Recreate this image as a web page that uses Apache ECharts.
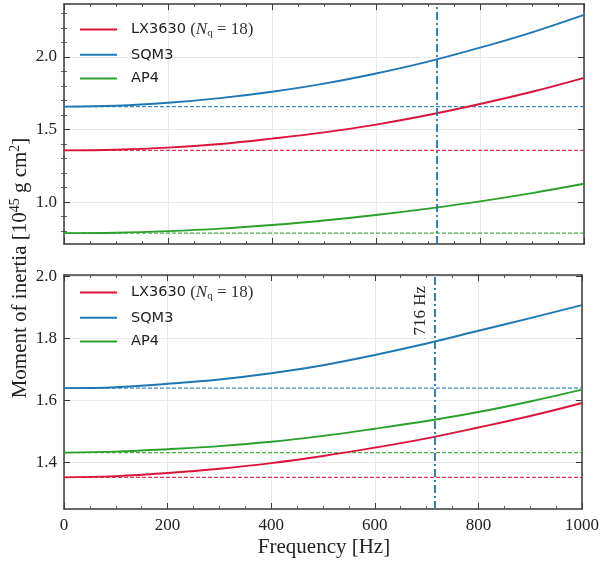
<!DOCTYPE html>
<html>
<head>
<meta charset="utf-8">
<script src="https://cdn.jsdelivr.net/npm/echarts@6/dist/echarts.min.js"></script>
<style>
  html, body { margin: 0; padding: 0; background: #fff; }
  #chart { width: 602px; height: 564px; }
</style>
</head>
<body>
<div id="chart"></div>
<script>
// Spin frequency grid [Hz]
const freq = [0, 100, 200, 300, 400, 500, 600, 700, 800, 900, 1000];

// Upper panel: moment of inertia [10^45 g cm^2]
const topLX3630 = [1.356, 1.361, 1.375, 1.400, 1.437, 1.480, 1.534, 1.600, 1.676, 1.760, 1.856];
const topSQM3   = [1.658, 1.664, 1.684, 1.716, 1.760, 1.816, 1.886, 1.968, 2.064, 2.170, 2.290];
const topAP4    = [0.786, 0.789, 0.800, 0.817, 0.842, 0.873, 0.911, 0.955, 1.005, 1.062, 1.126];

// Lower panel
const botLX3630 = [1.352, 1.356, 1.366, 1.380, 1.398, 1.421, 1.448, 1.478, 1.513, 1.550, 1.592];
const botSQM3   = [1.640, 1.643, 1.654, 1.668, 1.688, 1.714, 1.747, 1.784, 1.825, 1.866, 1.908];
const botAP4    = [1.432, 1.435, 1.443, 1.453, 1.467, 1.486, 1.509, 1.534, 1.563, 1.597, 1.635];

// Non-rotating reference values (dashed lines)
const topStatic = { LX3630: 1.356, SQM3: 1.658, AP4: 0.786 };
const botStatic = { LX3630: 1.352, SQM3: 1.640, AP4: 1.432 };

// Observed spin frequency
const fastestPulsar = 716;

// Axis ranges and ticks
const xRange = [0, 1000];
const xTicks = 200;
const topYRange = [0.711, 2.365];
const topYMajor = [1.0, 1.5, 2.0];
const topYMinor = [0.8, 0.9, 1.1, 1.2, 1.3, 1.4, 1.6, 1.7, 1.8, 1.9, 2.1, 2.2, 2.3];
const botYRange = [1.25, 2.005];
const botYMajor = [1.4, 1.6, 1.8, 2.0];

const names = ['LX3630', 'SQM3', 'AP4'];
const colors = { LX3630: '#dc143c', SQM3: '#1f77b4', AP4: '#2ca02c' };

const serif = 'Liberation Serif';
const sans = 'DejaVu Sans';
const frameColor = '#3a3a3a';
const gridColor = '#e8e8e8';

function pairs(xs, ys) { return xs.map((x, i) => [x, ys[i]]); }

function xAxes(gridIndex, withLabels) {
  const common = {
    type: 'value', gridIndex, min: xRange[0], max: xRange[1], interval: xTicks,
    axisLine: { show: true, onZero: false, lineStyle: { color: frameColor, width: 1.5 } },
    axisTick: { show: true, inside: true, length: 6, lineStyle: { color: frameColor, width: 1 } },
    minorTick: { show: true, splitNumber: 4, length: 3, lineStyle: { color: frameColor, width: 0.8 } }
  };
  return [
    Object.assign({}, common, {
      position: 'bottom',
      axisLabel: { show: withLabels, fontFamily: serif, fontSize: 17, color: '#222', margin: 8, formatter: v => String(v) },
      splitLine: { show: true, lineStyle: { color: gridColor, width: 1 } }
    }),
    Object.assign({}, common, {
      position: 'top',
      axisLabel: { show: false },
      splitLine: { show: false }
    })
  ];
}

function yAxes(gridIndex, range, major, minor) {
  const base = {
    type: 'value', gridIndex, min: range[0], max: range[1],
    axisLine: { show: true, onZero: false, lineStyle: { color: frameColor, width: 1.5 } },
    splitLine: { show: false }
  };
  const list = [];
  ['left', 'right'].forEach(pos => {
    list.push(Object.assign({}, base, {
      position: pos,
      axisTick: { show: true, inside: true, length: 6, customValues: major, lineStyle: { color: frameColor, width: 1 } },
      axisLabel: {
        show: pos === 'left', customValues: major, fontFamily: serif, fontSize: 17, color: '#222', margin: 7,
        formatter: v => v.toFixed(1)
      },
      splitLine: { show: pos === 'left', lineStyle: { color: gridColor, width: 1 } }
    }));
    list.push(Object.assign({}, base, {
      position: pos,
      axisLine: { show: false },
      axisTick: { show: minor.length > 0, inside: true, length: 3, customValues: minor.length ? minor : [range[0]], lineStyle: { color: frameColor, width: 0.8 } },
      axisLabel: { show: false },
      splitLine: { show: false }
    }));
  });
  return list;
}

function panelSeries(xIdx, yIdx, curves, statics, withLabel) {
  const out = [];
  names.forEach(n => {
    out.push({
      name: n, type: 'line', xAxisIndex: xIdx, yAxisIndex: yIdx,
      data: pairs(freq, curves[n]), smooth: 0.4, showSymbol: false, symbol: 'none',
      lineStyle: { color: colors[n], width: 1.9 }, itemStyle: { color: colors[n] }, z: 3
    });
    out.push({
      name: n + ' static', type: 'line', xAxisIndex: xIdx, yAxisIndex: yIdx,
      data: [[xRange[0], statics[n]], [xRange[1], statics[n]]], showSymbol: false, symbol: 'none',
      lineStyle: { color: colors[n], width: 1.2, type: [4, 2], opacity: 0.85 }, z: 2, silent: true
    });
  });
  out.push({
    name: 'spin limit', type: 'line', xAxisIndex: xIdx, yAxisIndex: yIdx, data: [], z: 4, silent: true,
    markLine: {
      silent: true, symbol: 'none', animation: false,
      lineStyle: { color: '#1f77b4', width: 1.8, type: [8, 3, 2, 3] },
      label: withLabel ? {
        show: true, position: 'insideEndTop', formatter: fastestPulsar + ' Hz',
        fontFamily: serif, fontSize: 17, color: '#222', distance: 6, padding: [0, 5, 0, 0]
      } : { show: false },
      data: [{ xAxis: fastestPulsar }]
    }
  });
  return out;
}

const legendRich = {
  s: { fontFamily: sans, fontSize: 14.5, color: '#222', lineHeight: 18, padding: [0, 0, 0, 9] },
  m: { fontFamily: serif, fontSize: 17, color: '#333', lineHeight: 18 },
  i: { fontFamily: serif, fontSize: 17, fontStyle: 'italic', color: '#333', lineHeight: 18 },
  sub: { fontFamily: serif, fontSize: 11, color: '#333', lineHeight: 18, verticalAlign: 'bottom', padding: [6, 0, 0, 0] }
};

function legendFor(top) {
  return {
    data: names, orient: 'vertical', left: 80, top: top, padding: 0,
    icon: 'rect', itemWidth: 37, itemHeight: 2, itemGap: 8.8,
    selectedMode: false,
    textStyle: { rich: legendRich },
    formatter: n => n === 'LX3630'
      ? '{s|LX3630}{m| (}{i|N}{sub|q}{m| = 18)}'
      : '{s|' + n + '}'
  };
}

const option = {
  animation: false,
  backgroundColor: '#fff',
  grid: [
    { left: 64, right: 18, top: 4, height: 240 },
    { left: 64, right: 18, top: 275, height: 234 }
  ],
  xAxis: [].concat(xAxes(0, false), xAxes(1, true)),
  yAxis: [].concat(yAxes(0, topYRange, topYMajor, topYMinor), yAxes(1, botYRange, botYMajor, [])),
  legend: [legendFor(21), legendFor(284)],
  series: [].concat(
    panelSeries(0, 0, { LX3630: topLX3630, SQM3: topSQM3, AP4: topAP4 }, topStatic, false),
    panelSeries(2, 4, { LX3630: botLX3630, SQM3: botSQM3, AP4: botAP4 }, botStatic, true)
  ),
  graphic: [
    {
      type: 'text', x: 20, y: 268, rotation: Math.PI / 2,
      style: {
        text: '{t|Moment of inertia [10}{sup|45}{t| g cm}{sup|2}{t|]}',
        align: 'center', verticalAlign: 'middle',
        rich: {
          t: { fontFamily: serif, fontSize: 21, fill: '#222', lineHeight: 24 },
          sup: { fontFamily: serif, fontSize: 14, fill: '#222', lineHeight: 24, verticalAlign: 'top' }
        }
      }
    },
    {
      type: 'text', x: 324, y: 547,
      style: {
        text: 'Frequency [Hz]', fontFamily: serif, fontSize: 21, fill: '#222',
        align: 'center', verticalAlign: 'middle'
      }
    }
  ]
};

const chart = echarts.init(document.getElementById('chart'), null, { renderer: 'canvas' });
chart.setOption(option);
</script>
</body>
</html>
